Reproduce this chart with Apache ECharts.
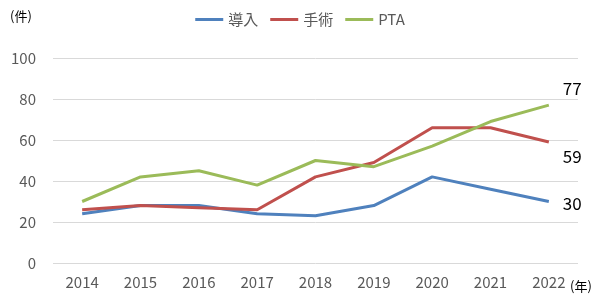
<!DOCTYPE html>
<html>
<head>
<meta charset="utf-8">
<script src="https://cdn.jsdelivr.net/npm/echarts@6/dist/echarts.min.js"></script>
<style>
  html, body { margin: 0; padding: 0; background: #fff; }
  #chart { width: 600px; height: 305px; }
</style>
</head>
<body>
<div id="chart"></div>
<script>
var years = ['2014', '2015', '2016', '2017', '2018', '2019', '2020', '2021', '2022'];
var introData = [24, 28, 28, 24, 23, 28, 42, 36, 30];
var surgeryData = [26, 28, 27, 26, 42, 49, 66, 66, 59];
var ptaData = [30, 42, 45, 38, 50, 47, 57, 69, 77];

var font = '"Noto Sans CJK JP", "Noto Sans", sans-serif';

// value label at the end of each line
function endLbl(offset) {
  return {
    show: true,
    offset: offset,
    color: '#000',
    fontSize: 17,
    fontFamily: font,
    formatter: function (p) { return p.value; }
  };
}

var dom = document.getElementById('chart');
var myChart = echarts.init(dom, null, { renderer: 'canvas' });

var option = {
  animation: false,
  textStyle: { fontFamily: font },
  legend: {
    top: 7,
    left: 'center',
    itemWidth: 28,
    itemHeight: 3,
    itemGap: 12,
    icon: 'rect',
    textStyle: { color: '#595959', fontSize: 15, fontFamily: font },
    data: ['導入', '手術', 'PTA']
  },
  grid: { left: 53, right: 22, top: 58, bottom: 42 },
  xAxis: {
    type: 'category',
    data: years,
    boundaryGap: true,
    axisLine: { show: false },
    axisTick: { show: false },
    axisLabel: { color: '#595959', fontSize: 15, margin: 12, fontFamily: font }
  },
  yAxis: {
    type: 'value',
    min: 0,
    max: 100,
    interval: 20,
    axisLine: { show: false },
    axisTick: { show: false },
    axisLabel: { color: '#595959', fontSize: 15, margin: 17, fontFamily: font },
    splitLine: { lineStyle: { color: '#d9d9d9', width: 1 } }
  },
  graphic: [
    { type: 'text', left: 10, top: 10, style: { text: '(件)', fill: '#000', fontSize: 13, fontFamily: font } },
    { type: 'text', left: 570, top: 280, style: { text: '(年)', fill: '#000', fontSize: 13, fontFamily: font } }
  ],
  series: [
    {
      name: '導入', type: 'line', data: introData, symbol: 'none',
      endLabel: endLbl([6, 2]),
      lineStyle: { width: 3, color: '#4F81BD' }, itemStyle: { color: '#4F81BD' }
    },
    {
      name: '手術', type: 'line', data: surgeryData, symbol: 'none',
      endLabel: endLbl([6, 14]),
      lineStyle: { width: 3, color: '#C0504D' }, itemStyle: { color: '#C0504D' }
    },
    {
      name: 'PTA', type: 'line', data: ptaData, symbol: 'none',
      endLabel: endLbl([6, -17]),
      lineStyle: { width: 3, color: '#9BBB59' }, itemStyle: { color: '#9BBB59' }
    }
  ]
};

myChart.setOption(option);
window.addEventListener('resize', myChart.resize);
</script>
</body>
</html>
